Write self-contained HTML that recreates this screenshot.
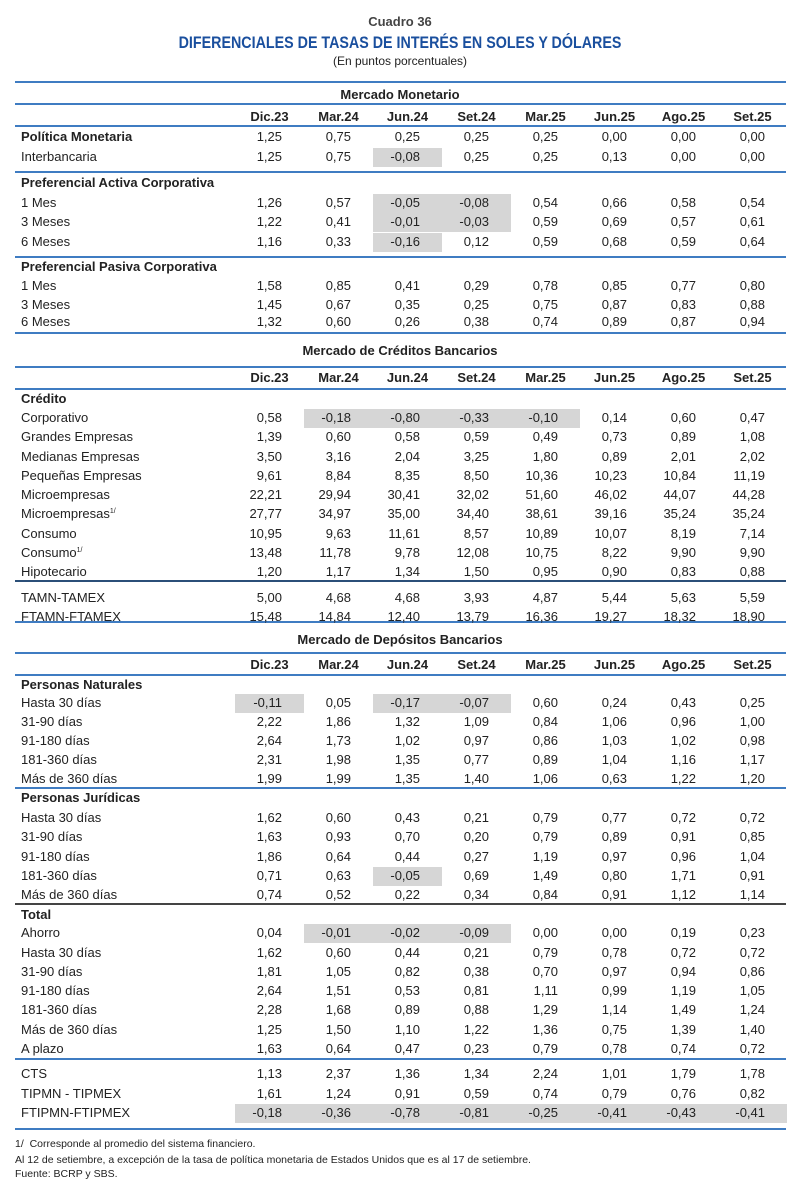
<!DOCTYPE html>
<html><head><meta charset="utf-8">
<style>
body{margin:0;width:800px;height:1191px;background:#fff;position:relative;font-family:"Liberation Sans",sans-serif;color:#222;overflow:hidden}
.t{position:absolute;white-space:nowrap;font-size:13px;line-height:16px}
.b{font-weight:bold}
.ln{position:absolute;left:15px;width:771px;height:2px;background:#3f7cc2}
.dk{background:#2b4f78}
.gy{background:#444}
.hl{position:absolute;background:#d6d6d6;height:19px;width:69px}
.v{position:absolute;width:69px;text-align:right;box-sizing:border-box;padding-right:22px;font-size:13px;line-height:16px}
.h{position:absolute;width:69px;text-align:center;font-size:13px;font-weight:bold;line-height:16px}
sup{font-size:7px;line-height:0;position:relative;top:-5px;vertical-align:baseline}
</style></head><body>
<div class="t b" style="left:0;width:800px;text-align:center;top:14px;color:#444">Cuadro 36</div>
<div class="t b" style="left:0;width:800px;text-align:center;top:33px;font-size:17px;line-height:20px;color:#1a4f9e;transform:scaleX(0.84)">DIFERENCIALES DE TASAS DE INTERÉS EN SOLES Y DÓLARES</div>
<div class="t" style="left:0;width:800px;text-align:center;top:53px;font-size:12px">(En puntos porcentuales)</div>
<div id="tbl"></div>
<div class="t" style="left:15px;top:1136px;font-size:10.5px">1/ &nbsp;Corresponde al promedio del sistema financiero.</div>
<div class="t" style="left:15px;top:1152px;font-size:10.5px">Al 12 de setiembre, a excepción de la tasa de política monetaria de Estados Unidos que es al 17 de setiembre.</div>
<div class="t" style="left:15px;top:1166px;font-size:10.5px">Fuente: BCRP y SBS.</div>
<script>
const columns=["Dic.23","Mar.24","Jun.24","Set.24","Mar.25","Jun.25","Ago.25","Set.25"];
const rows=[
["sec",95,"Mercado Monetario"],["hdr",117],
["row",137,"Política Monetaria",["1,25","0,75","0,25","0,25","0,25","0,00","0,00","0,00"],[],1],
["row",157,"Interbancaria",["1,25","0,75","-0,08","0,25","0,25","0,13","0,00","0,00"],[2]],
["grp",183,"Preferencial Activa Corporativa"],
["row",203,"1 Mes",["1,26","0,57","-0,05","-0,08","0,54","0,66","0,58","0,54"],[2,3]],
["row",222,"3 Meses",["1,22","0,41","-0,01","-0,03","0,59","0,69","0,57","0,61"],[2,3]],
["row",242,"6 Meses",["1,16","0,33","-0,16","0,12","0,59","0,68","0,59","0,64"],[2]],
["grp",267,"Preferencial Pasiva Corporativa"],
["row",286,"1 Mes",["1,58","0,85","0,41","0,29","0,78","0,85","0,77","0,80"],[]],
["row",305,"3 Meses",["1,45","0,67","0,35","0,25","0,75","0,87","0,83","0,88"],[]],
["row",322,"6 Meses",["1,32","0,60","0,26","0,38","0,74","0,89","0,87","0,94"],[]],
["sec",351,"Mercado de Créditos Bancarios"],["hdr",378],
["grp",399,"Crédito"],
["row",418,"Corporativo",["0,58","-0,18","-0,80","-0,33","-0,10","0,14","0,60","0,47"],[1,2,3,4]],
["row",437,"Grandes Empresas",["1,39","0,60","0,58","0,59","0,49","0,73","0,89","1,08"],[]],
["row",457,"Medianas Empresas",["3,50","3,16","2,04","3,25","1,80","0,89","2,01","2,02"],[]],
["row",476,"Pequeñas Empresas",["9,61","8,84","8,35","8,50","10,36","10,23","10,84","11,19"],[]],
["row",495,"Microempresas",["22,21","29,94","30,41","32,02","51,60","46,02","44,07","44,28"],[]],
["row",514,"Microempresas<sup>1/</sup>",["27,77","34,97","35,00","34,40","38,61","39,16","35,24","35,24"],[]],
["row",534,"Consumo",["10,95","9,63","11,61","8,57","10,89","10,07","8,19","7,14"],[]],
["row",553,"Consumo<sup>1/</sup>",["13,48","11,78","9,78","12,08","10,75","8,22","9,90","9,90"],[]],
["row",572,"Hipotecario",["1,20","1,17","1,34","1,50","0,95","0,90","0,83","0,88"],[]],
["row",598,"TAMN-TAMEX",["5,00","4,68","4,68","3,93","4,87","5,44","5,63","5,59"],[]],
["row",617,"FTAMN-FTAMEX",["15,48","14,84","12,40","13,79","16,36","19,27","18,32","18,90"],[]],
["sec",640,"Mercado de Depósitos Bancarios"],["hdr",665],
["grp",685,"Personas Naturales"],
["row",703,"Hasta 30 días",["-0,11","0,05","-0,17","-0,07","0,60","0,24","0,43","0,25"],[0,2,3]],
["row",722,"31-90 días",["2,22","1,86","1,32","1,09","0,84","1,06","0,96","1,00"],[]],
["row",741,"91-180 días",["2,64","1,73","1,02","0,97","0,86","1,03","1,02","0,98"],[]],
["row",760,"181-360 días",["2,31","1,98","1,35","0,77","0,89","1,04","1,16","1,17"],[]],
["row",779,"Más de 360 días",["1,99","1,99","1,35","1,40","1,06","0,63","1,22","1,20"],[]],
["grp",798,"Personas Jurídicas"],
["row",818,"Hasta 30 días",["1,62","0,60","0,43","0,21","0,79","0,77","0,72","0,72"],[]],
["row",837,"31-90 días",["1,63","0,93","0,70","0,20","0,79","0,89","0,91","0,85"],[]],
["row",857,"91-180 días",["1,86","0,64","0,44","0,27","1,19","0,97","0,96","1,04"],[]],
["row",876,"181-360 días",["0,71","0,63","-0,05","0,69","1,49","0,80","1,71","0,91"],[2]],
["row",895,"Más de 360 días",["0,74","0,52","0,22","0,34","0,84","0,91","1,12","1,14"],[]],
["grp",915,"Total"],
["row",933,"Ahorro",["0,04","-0,01","-0,02","-0,09","0,00","0,00","0,19","0,23"],[1,2,3]],
["row",953,"Hasta 30 días",["1,62","0,60","0,44","0,21","0,79","0,78","0,72","0,72"],[]],
["row",972,"31-90 días",["1,81","1,05","0,82","0,38","0,70","0,97","0,94","0,86"],[]],
["row",991,"91-180 días",["2,64","1,51","0,53","0,81","1,11","0,99","1,19","1,05"],[]],
["row",1010,"181-360 días",["2,28","1,68","0,89","0,88","1,29","1,14","1,49","1,24"],[]],
["row",1030,"Más de 360 días",["1,25","1,50","1,10","1,22","1,36","0,75","1,39","1,40"],[]],
["row",1049,"A plazo",["1,63","0,64","0,47","0,23","0,79","0,78","0,74","0,72"],[]],
["row",1074,"CTS",["1,13","2,37","1,36","1,34","2,24","1,01","1,79","1,78"],[]],
["row",1094,"TIPMN - TIPMEX",["1,61","1,24","0,91","0,59","0,74","0,79","0,76","0,82"],[]],
["row",1113,"FTIPMN-FTIPMEX",["-0,18","-0,36","-0,78","-0,81","-0,25","-0,41","-0,43","-0,41"],[0,1,2,3,4,5,6,7]]
];
const lines=[[82,""],[104,""],[126,""],[172,""],[257,""],[333,""],[367,""],[389,""],[581,"dk"],[622,""],[653,""],[675,""],[788,""],[904,"gy"],[1059,""],[1129,""]];
const tbl=document.getElementById('tbl');
const colX=i=>235+i*69;
function mk(cls,style,html){const d=document.createElement('div');d.className=cls;d.setAttribute('style',style);if(html!==undefined)d.innerHTML=html;tbl.appendChild(d);return d;}
lines.forEach(l=>{const d=mk('ln '+l[1],'top:'+(l[0]-1)+'px');

});
rows.forEach(r=>{
 const y=r[1];
 if(r[0]==='sec'){const d=mk('t b','left:0;width:800px;text-align:center;top:'+(y-8)+'px',r[2]);
  
  }
 else if(r[0]==='hdr'){columns.forEach((c,i)=>{const d=mk('h','left:'+colX(i)+'px;top:'+(y-8)+'px',c);
  
  });}
 else if(r[0]==='grp'){const d=mk('t b','left:21px;top:'+(y-8)+'px',r[2]);
  
  }
 else{
  r[4].forEach(i=>{const h=mk('hl','left:'+colX(i)+'px;top:'+(y-9.5)+'px');
   
   });
  const lb=mk('t'+(r[5]?' b':''),'left:21px;top:'+(y-8)+'px',r[2]);
  
  
  r[3].forEach((v,i)=>{const d=mk('v','left:'+colX(i)+'px;top:'+(y-8)+'px',v);
   
   });
 }
});
</script>
</body></html>
